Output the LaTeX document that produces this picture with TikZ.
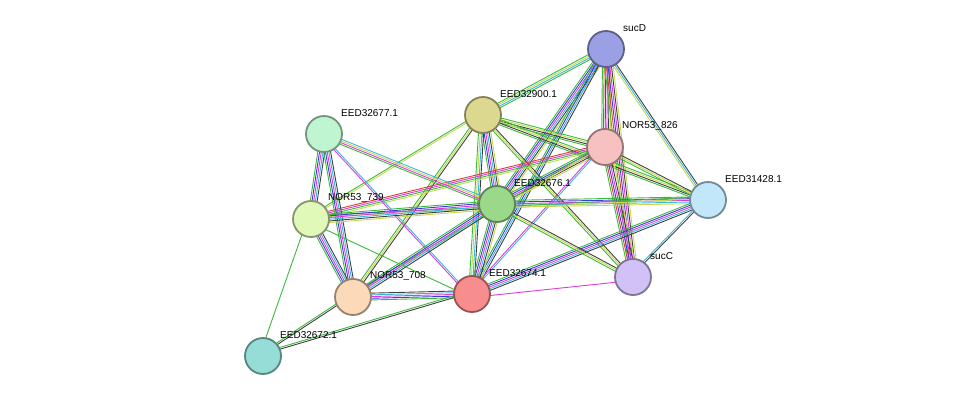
\documentclass[tikz,border=0pt]{standalone}
\usepackage{fontspec}
\setmainfont{Liberation Sans}
\usetikzlibrary{calc}

\definecolor{cgreen}{HTML}{3CB93C}
\definecolor{cblue}{HTML}{3C3CE0}
\definecolor{cmag}{HTML}{DD3CDD}
\definecolor{ccyan}{HTML}{3CB8E0}
\definecolor{cyel}{HTML}{C8D850}
\definecolor{cdark}{HTML}{404040}
\definecolor{cred}{HTML}{E03C3C}

\tikzset{
	prot/.style = {circle, minimum size = 36pt, inner sep = 0pt, line width = 1.8pt},
	lbl/.style = {anchor = west, inner sep = 0pt, font = \fontsize{10}{12}\selectfont},
	link/.style = {line width = 0.9pt}
}

\begin{document}
\begin{tikzpicture}[x = 1pt, y = -1pt]

	\useasboundingbox (0, 0) rectangle (976, 402);

	% Proteins

	\foreach \n/\x/\y in {
		sucD/606/49, e900/483/115, n826/605/147, e677/324/134,
		e428/708/200, e676/497/204, n739/311/219, sucC/633/277,
		n708/353/297, e674/472/294, e672/263/356}
	{
		\coordinate (\n) at (\x, \y);
		\coordinate (\n-l) at (\x + 17, \y - 21);
	}

	% Interactions

	\foreach \a/\b/\cols in {
		sucD/e900/{cgreen,cyel,ccyan,cgreen},
		sucD/n826/{cgreen,cred,cblue,cmag,cdark,cyel},
		sucD/e428/{cyel,ccyan,cdark},
		sucD/e676/{cgreen,cblue,cmag,ccyan,cdark,cyel},
		sucD/sucC/{cgreen,cred,cblue,cmag,cdark,cyel},
		sucD/e674/{cgreen,cblue,ccyan,cdark},
		e900/n826/{cgreen,cdark,cyel,cgreen},
		e900/e428/{cgreen,cdark,cyel,cgreen},
		e900/e676/{cgreen,cblue,cmag,ccyan,cdark,cyel},
		e900/sucC/{cgreen,cyel,cdark},
		e900/e674/{cgreen,cyel,ccyan,cdark},
		e900/n708/{cgreen,cyel,cdark},
		e900/n739/{cgreen,cyel},
		n826/n739/{cred,cmag,cgreen,cyel},
		n826/e676/{cgreen,cblue,cmag,cdark,cyel},
		n826/e428/{cgreen,cyel,cdark},
		n826/sucC/{cgreen,cred,cblue,cmag,cdark,cyel},
		n826/e674/{cmag,ccyan},
		n826/n708/{cgreen,cyel},
		e677/n739/{cgreen,cblue,cmag,ccyan,cdark},
		e677/n708/{cgreen,cblue,cmag,ccyan,cdark},
		e677/e676/{cgreen,cmag,cyel,ccyan},
		e677/e674/{cmag,ccyan},
		e428/e676/{cgreen,cblue,cmag,ccyan,cyel},
		e428/sucC/{ccyan,cdark},
		e428/e674/{cgreen,cblue,cmag,ccyan,cdark},
		e428/n739/{cgreen,cyel},
		e676/n739/{cgreen,cblue,cmag,ccyan,cdark,cyel},
		e676/sucC/{cgreen,cyel,cdark},
		e676/n708/{cgreen,cblue,cmag,ccyan,cdark},
		e676/e674/{cgreen,cblue,cmag,ccyan,cdark,cyel},
		n739/n708/{cgreen,cblue,cmag,ccyan,cdark},
		n739/e674/{cgreen},
		n739/e672/{cgreen},
		n708/e674/{cgreen,cblue,cmag,ccyan,cdark},
		n708/e672/{cgreen,cdark},
		e674/sucC/{cmag},
		e674/e672/{cgreen,cdark}}
	{
		\foreach \c [count = \i] in \cols
		{
			\pgfmathsetmacro{\o}{(\i - 3) * 1.7}
			\draw [link, \c] ($(\a)!\o pt!90:(\b)$) -- ($(\b)!\o pt!-90:(\a)$);
		}
	}

	% Protein circles and labels

	\foreach \n/\f/\t in {
		sucD/9BA0E4/sucD,
		e900/DCD890/EED32900.1,
		n826/F7C1C1/NOR53\_826,
		e677/BFF5D0/EED32677.1,
		e428/C2E6FA/EED31428.1,
		e676/9BD98A/EED32676.1,
		n739/E0F8B8/NOR53\_739,
		sucC/D2C1F7/sucC,
		n708/FCD9B8/NOR53\_708,
		e674/F78D8D/EED32674.1,
		e672/95DDD6/EED32672.1}
	{
		\definecolor{fc}{HTML}{\f}
		\node [prot, fill = fc, draw = fc!60!black] (\n-c) at (\n) {};
		\node [lbl] (\n-t) at (\n-l) {\t};
	}

\end{tikzpicture}
\end{document}
